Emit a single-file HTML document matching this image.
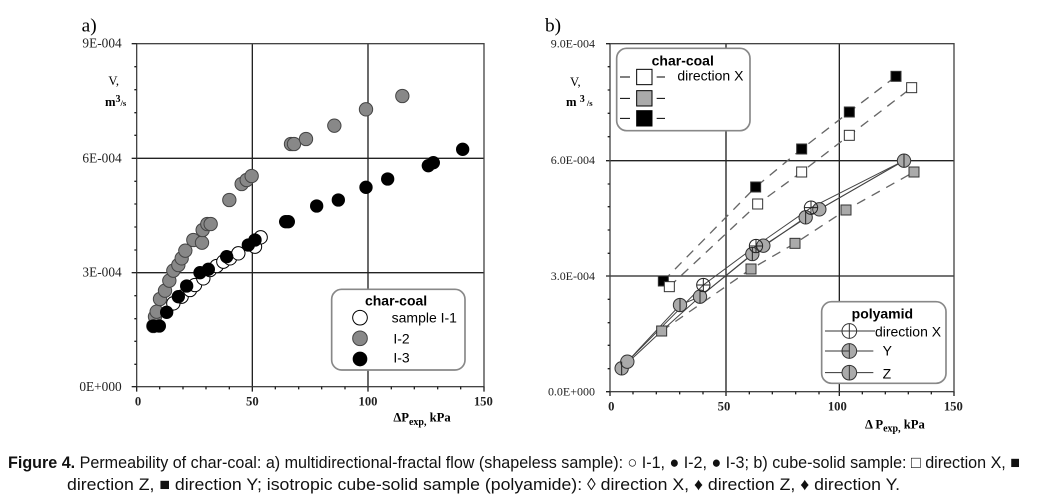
<!DOCTYPE html>
<html><head><meta charset="utf-8"><style>body{margin:0;background:#fff}svg{display:block}</style></head><body>
<svg width="1056" height="497" viewBox="0 0 1056 497" xmlns="http://www.w3.org/2000/svg">
<rect width="1056" height="497" fill="#fff"/>
<!-- Chart a -->
<g transform="scale(0.33333)" font-family="Liberation Serif, serif">
<text x="245" y="95" font-size="58">a)</text>
<g stroke="#222" stroke-width="4" fill="none">
<line x1="757" y1="131" x2="757" y2="1160"/><line x1="1104" y1="131" x2="1104" y2="1160"/>
<line x1="410" y1="475" x2="1452" y2="475"/><line x1="410" y1="818" x2="1452" y2="818"/>
<rect x="410" y="131" width="1042" height="1029" stroke="#444"/>
<line x1="395" y1="131" x2="410" y2="131"/><line x1="395" y1="475" x2="410" y2="475"/><line x1="395" y1="818" x2="410" y2="818"/><line x1="395" y1="1160" x2="410" y2="1160"/>
<path d="M403 200H410M403 269H410M403 338H410M403 406H410M403 544H410M403 612H410M403 681H410M403 750H410M403 887H410M403 956H410M403 1024H410M403 1093H410"/>
<path d="M410 1160V1175M757 1160V1175M1104 1160V1175M1452 1160V1175M479 1160V1168M549 1160V1168M618 1160V1168M688 1160V1168M826 1160V1168M896 1160V1168M965 1160V1168M1035 1160V1168M1174 1160V1168M1243 1160V1168M1313 1160V1168M1382 1160V1168"/>
</g>
<g font-size="40" fill="#222" text-anchor="end">
<text x="365" y="143">9E-004</text><text x="365" y="487">6E-004</text><text x="365" y="830">3E-004</text><text x="365" y="1173">0E+000</text>
</g>
<g font-size="38" font-weight="bold" fill="#222" text-anchor="middle">
<text x="414" y="1216">0</text><text x="757" y="1216">50</text><text x="1104" y="1216">100</text><text x="1450" y="1216">150</text>
</g>
<text x="325" y="255" font-size="38">V,</text>
<text x="315" y="318" font-size="38" font-weight="bold">m<tspan font-size="30" dy="-12">3</tspan><tspan font-size="26" dy="12">/s</tspan></text>
<text x="1180" y="1265" font-size="38" font-weight="bold">ΔP<tspan font-size="30" dy="10">exp,</tspan><tspan dy="-10"> kPa</tspan></text>
<g stroke="#000" stroke-width="3" fill="#fff">
<circle cx="500" cy="925" r="20"/><circle cx="520" cy="910" r="20"/><circle cx="545" cy="890" r="20"/><circle cx="570" cy="870" r="20"/><circle cx="585" cy="855" r="20"/><circle cx="610" cy="835" r="20"/><circle cx="630" cy="810" r="20"/><circle cx="650" cy="798" r="20"/><circle cx="670" cy="785" r="20"/><circle cx="690" cy="775" r="20"/><circle cx="715" cy="760" r="20"/><circle cx="765" cy="740" r="20"/><circle cx="782" cy="712" r="20"/>
</g>
<g stroke="#444" stroke-width="3" fill="#888">
<circle cx="460" cy="978" r="20"/><circle cx="465" cy="950" r="20"/><circle cx="470" cy="935" r="20"/><circle cx="480" cy="897" r="20"/><circle cx="495" cy="872" r="20"/><circle cx="508" cy="842" r="20"/><circle cx="520" cy="812" r="20"/><circle cx="535" cy="795" r="20"/><circle cx="545" cy="775" r="20"/><circle cx="556" cy="752" r="20"/><circle cx="580" cy="720" r="20"/><circle cx="606" cy="728" r="20"/><circle cx="608" cy="690" r="20"/><circle cx="622" cy="672" r="20"/><circle cx="632" cy="672" r="20"/><circle cx="688" cy="600" r="20"/><circle cx="725" cy="552" r="20"/><circle cx="740" cy="540" r="20"/><circle cx="755" cy="528" r="20"/><circle cx="873" cy="432" r="20"/><circle cx="882" cy="432" r="20"/><circle cx="918" cy="417" r="20"/><circle cx="1003" cy="377" r="20"/><circle cx="1098" cy="328" r="20"/><circle cx="1207" cy="288" r="20"/>
</g>
<g fill="#000">
<circle cx="460" cy="978" r="20"/><circle cx="478" cy="978" r="20"/><circle cx="500" cy="937" r="20"/><circle cx="535" cy="890" r="20"/><circle cx="560" cy="858" r="20"/><circle cx="600" cy="818" r="20"/><circle cx="625" cy="808" r="20"/><circle cx="680" cy="770" r="20"/><circle cx="745" cy="735" r="20"/><circle cx="765" cy="720" r="20"/><circle cx="857" cy="665" r="20"/><circle cx="865" cy="665" r="20"/><circle cx="950" cy="618" r="20"/><circle cx="1015" cy="600" r="20"/><circle cx="1098" cy="562" r="20"/><circle cx="1163" cy="537" r="20"/><circle cx="1285" cy="497" r="20"/><circle cx="1300" cy="488" r="20"/><circle cx="1388" cy="448" r="20"/>
</g>
<rect x="995" y="868" width="400" height="242" rx="30" fill="#fff" stroke="#888" stroke-width="5"/>
<g font-family="Liberation Sans, sans-serif" font-size="42" fill="#000">
<text x="1095" y="917" font-weight="bold">char-coal</text>
<text x="1175" y="968">sample I-1</text><text x="1180" y="1030">I-2</text><text x="1180" y="1087">I-3</text>
</g>
<circle cx="1080" cy="953" r="22" fill="#fff" stroke="#000" stroke-width="3"/>
<circle cx="1080" cy="1015" r="22" fill="#888" stroke="#444" stroke-width="3"/>
<circle cx="1080" cy="1077" r="22" fill="#000"/>
</g>
<!-- Chart b -->
<g transform="translate(520,0) scale(0.33333)" font-family="Liberation Serif, serif">
<text x="75" y="95" font-size="58">b)</text>
<g stroke="#222" stroke-width="4" fill="none">
<line x1="618" y1="131" x2="618" y2="1175"/><line x1="958" y1="131" x2="958" y2="1175"/>
<line x1="258" y1="482" x2="1302" y2="482"/><line x1="258" y1="828" x2="1302" y2="828"/>
<rect x="270" y="131" width="1032" height="1044" stroke="#444"/>
<path d="M258 131H270M258 1175H270M263 200H270M263 270H270M263 340H270M263 410H270M263 552H270M263 620H270M263 690H270M263 760H270M263 898H270M263 968H270M263 1036H270M263 1106H270"/>
<path d="M270 1175V1188M618 1175V1188M958 1175V1188M1302 1175V1188M339 1175V1183M409 1175V1183M479 1175V1183M549 1175V1183M688 1175V1183M757 1175V1183M827 1175V1183M897 1175V1183M1027 1175V1183M1096 1175V1183M1165 1175V1183M1234 1175V1183"/>
</g>
<g font-size="36" fill="#222" text-anchor="end">
<text x="225" y="143">9.0E-004</text><text x="225" y="492">6.0E-004</text><text x="225" y="840">3.0E-004</text><text x="225" y="1187">0.0E+000</text>
</g>
<g font-size="38" font-weight="bold" fill="#222" text-anchor="middle">
<text x="274" y="1232">0</text><text x="612" y="1232">50</text><text x="952" y="1232">100</text><text x="1300" y="1232">150</text>
</g>
<text x="150" y="258" font-size="38">V,</text>
<text x="138" y="318" font-size="38" font-weight="bold">m <tspan font-size="30" dy="-12">3</tspan><tspan font-size="26" dy="12"> /s</tspan></text>
<text x="1035" y="1285" font-size="38" font-weight="bold">Δ P<tspan font-size="30" dy="10">exp,</tspan><tspan dy="-10"> kPa</tspan></text>
<g stroke="#666" stroke-width="4" stroke-dasharray="28,22" fill="none">
<polyline points="430,843 707,561 845,447 988,336 1128,229"/>
<polyline points="448,860 713,612 845,516 988,406 1175,263"/>
<polyline points="425,993 693,807 825,730 978,630 1182,516"/>
</g>
<g stroke="#444" stroke-width="3" fill="none">
<polyline points="305,1105 322,1085 550,855 708,738 873,623 1152,482"/>
<polyline points="322,1085 480,915 540,890 697,762 857,652 1152,482"/>
<polyline points="305,1105 425,993 540,890 730,737 898,628 1152,482"/>
</g>
<g stroke="#333" stroke-width="3">
<g fill="#000"><rect x="415" y="828" width="30" height="30"/><rect x="692" y="546" width="30" height="30"/><rect x="830" y="432" width="30" height="30"/><rect x="973" y="321" width="30" height="30"/><rect x="1113" y="214" width="30" height="30"/></g>
<g fill="#fff"><rect x="433" y="845" width="30" height="30"/><rect x="698" y="597" width="30" height="30"/><rect x="830" y="501" width="30" height="30"/><rect x="973" y="391" width="30" height="30"/><rect x="1160" y="248" width="30" height="30"/></g>
<g fill="#aaa"><rect x="410" y="978" width="30" height="30"/><rect x="678" y="792" width="30" height="30"/><rect x="810" y="715" width="30" height="30"/><rect x="963" y="615" width="30" height="30"/><rect x="1167" y="501" width="30" height="30"/></g>
</g>
<g stroke="#333" stroke-width="3" fill="#aaa">
<circle cx="305" cy="1105" r="20"/><circle cx="322" cy="1085" r="20"/><circle cx="480" cy="915" r="20"/><circle cx="540" cy="890" r="20"/><circle cx="697" cy="762" r="20"/><circle cx="730" cy="737" r="20"/><circle cx="857" cy="652" r="20"/><circle cx="898" cy="628" r="20"/><circle cx="1152" cy="482" r="20"/>
</g>
<g stroke="#222" stroke-width="3" fill="none">
<circle cx="550" cy="855" r="20"/><path d="M530 855H570M550 835V875"/>
<circle cx="708" cy="738" r="20"/><path d="M688 738H728M708 718V758"/>
<circle cx="873" cy="623" r="20"/><path d="M853 623H893M873 603V643"/>
<path d="M1152 462V502M305 1085V1125M480 895V935M540 870V910M697 742V782M857 632V672"/>
</g>
<rect x="290" y="145" width="400" height="247" rx="30" fill="#fff" stroke="#888" stroke-width="5"/>
<g font-family="Liberation Sans, sans-serif" font-size="42" fill="#000">
<text x="395" y="196" font-weight="bold">char-coal</text>
<text x="472" y="242">direction X</text>
</g>
<g stroke="#000" stroke-width="3">
<path d="M300 231H330M410 231H435M300 295H330M410 295H435M300 355H330M410 355H435"/>
<rect x="350" y="208" width="46" height="46" fill="#fff"/>
<rect x="350" y="272" width="46" height="46" fill="#aaa"/>
<rect x="350" y="332" width="46" height="46" fill="#000"/>
</g>
<rect x="905" y="905" width="373" height="245" rx="30" fill="#fff" stroke="#888" stroke-width="5"/>
<g font-family="Liberation Sans, sans-serif" font-size="42" fill="#000">
<text x="995" y="956" font-weight="bold">polyamid</text>
<text x="1065" y="1010">direction X</text><text x="1088" y="1067">Y</text><text x="1088" y="1135">Z</text>
</g>
<g stroke="#333" stroke-width="3">
<path d="M915 993H1065M915 1053H1060M915 1118H1060"/>
<circle cx="988" cy="993" r="22" fill="#fff"/><path d="M966 993H1010M988 971V1015" fill="none"/>
<circle cx="988" cy="1053" r="22" fill="#aaa"/><path d="M966 1053H988M988 1031V1075" fill="none"/>
<circle cx="988" cy="1118" r="22" fill="#aaa"/><path d="M988 1096V1140" fill="none"/>
</g>
</g>
<!-- caption -->
<g font-family="Liberation Sans, sans-serif" font-size="17" fill="#111">
<text x="8" y="468" textLength="1012" lengthAdjust="spacingAndGlyphs"><tspan font-weight="bold">Figure 4.</tspan> Permeability of char-coal: a) multidirectional-fractal flow (shapeless sample): ○ I-1, ● I-2, ● I-3; b) cube-solid sample: □ direction X, ■</text>
<text x="67" y="490" textLength="833" lengthAdjust="spacingAndGlyphs">direction Z, ■ direction Y; isotropic cube-solid sample (polyamide): ◊ direction X, ♦ direction Z, ♦ direction Y.</text>
</g>
</svg>
</body></html>
